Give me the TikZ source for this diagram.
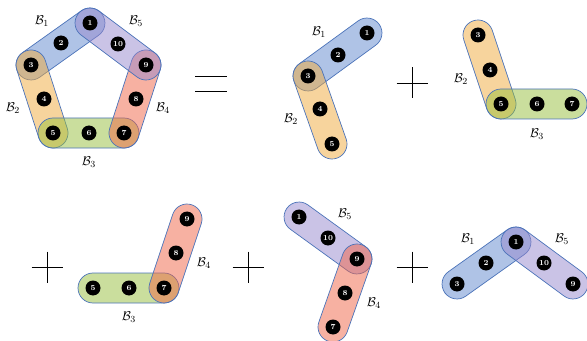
\documentclass[tikz,border=0pt]{standalone}
\usepackage{amsmath}
\usepackage{amssymb}
\usetikzlibrary{calc,backgrounds}

\definecolor{bleuB}{RGB}{95,135,205}
\definecolor{orangeB}{RGB}{240,170,60}
\definecolor{vertB}{RGB}{150,190,60}
\definecolor{rougeB}{RGB}{240,100,70}
\definecolor{violetB}{RGB}{150,135,205}
\definecolor{bordB}{RGB}{75,115,185}

% bande arrondie entre deux sommets : #1 debut, #2 fin, #3 couleur, #4 nom
\newcommand{\bande}[4]{%
\path let \p1=($(#2)-(#1)$), \n1={atan2(\y1,\x1)}, \n2={veclen(\x1,\y1)} in
 node[bandeB, fill=#3, rotate=\n1, minimum width=\n2+0.9cm] (#4) at ($(#1)!0.5!(#2)$) {};}

\begin{document}
\begin{tikzpicture}[x=0.03cm,y=-0.03cm,
 sommet/.style={circle, fill=black, text=white, inner sep=0pt, minimum size=0.45cm, font=\fontsize{6.5}{7}\selectfont\bfseries},
 bandeB/.style={rectangle, rounded corners=0.45cm, minimum height=0.9cm, inner sep=0pt, draw=bordB, line width=0.6pt, fill opacity=0.5},
 nomB/.style={inner sep=0pt, font=\fontsize{11}{13}\selectfont}]
\useasboundingbox (0,0) rectangle (587,341);

%pentagone
\node[sommet] (a1) at (90,23) {1};
\node[sommet] (a2) at (61,43) {2};
\node[sommet] (a3) at (31,65) {3};
\node[sommet] (a4) at (44,99) {4};
\node[sommet] (a5) at (53,133) {5};
\node[sommet] (a6) at (89,133) {6};
\node[sommet] (a7) at (124,133) {7};
\node[sommet] (a8) at (136,99) {8};
\node[sommet] (a9) at (146,65) {9};
\node[sommet] (a10) at (118,44) {10};
\begin{pgfonlayer}{background}
\bande{a1}{a3}{bleuB}{ba1}
\bande{a3}{a5}{orangeB}{ba2}
\bande{a5}{a7}{vertB}{ba3}
\bande{a7}{a9}{rougeB}{ba4}
\bande{a9}{a1}{violetB}{ba5}
\end{pgfonlayer}
\node[nomB] (na1) at (42,21) {$\mathcal{B}_1$};
\node[nomB] (na2) at (13,108) {$\mathcal{B}_2$};
\node[nomB] (na3) at (89,162) {$\mathcal{B}_3$};
\node[nomB] (na4) at (163,108) {$\mathcal{B}_4$};
\node[nomB] (na5) at (136,21) {$\mathcal{B}_5$};

%signe egal
\draw[line width=0.8pt] (195,76.5) -- (227,76.5);
\draw[line width=0.8pt] (195,91.5) -- (227,91.5);

%B1 et B2
\node[sommet] (b1) at (367,33) {1};
\node[sommet] (b2) at (338,55) {2};
\node[sommet] (b3) at (308,76) {3};
\node[sommet] (b4) at (320,109) {4};
\node[sommet] (b5) at (332,144) {5};
\begin{pgfonlayer}{background}
\bande{b1}{b3}{bleuB}{bb1}
\bande{b3}{b5}{orangeB}{bb2}
\end{pgfonlayer}
\node[nomB] (nb1) at (319,32) {$\mathcal{B}_1$};
\node[nomB] (nb2) at (291,119) {$\mathcal{B}_2$};

\draw (396.5,83) -- (427.5,83);
\draw (412,67.5) -- (412,98.5);

%B2 et B3
\node[sommet] (c3) at (478,35) {3};
\node[sommet] (c4) at (490,70) {4};
\node[sommet] (c5) at (501,104) {5};
\node[sommet] (c6) at (537,104) {6};
\node[sommet] (c7) at (572,104) {7};
\begin{pgfonlayer}{background}
\bande{c3}{c5}{orangeB}{bc2}
\bande{c5}{c7}{vertB}{bc3}
\end{pgfonlayer}
\node[nomB] (nc2) at (461,79) {$\mathcal{B}_2$};
\node[nomB] (nc3) at (537,134) {$\mathcal{B}_3$};

\draw (31.5,267) -- (62.5,267);
\draw (47,251.5) -- (47,282.5);

%B3 et B4
\node[sommet] (d5) at (93,288) {5};
\node[sommet] (d6) at (129,288) {6};
\node[sommet] (d7) at (164,288) {7};
\node[sommet] (d8) at (176,253) {8};
\node[sommet] (d9) at (187,219) {9};
\begin{pgfonlayer}{background}
\bande{d5}{d7}{vertB}{bd3}
\bande{d7}{d9}{rougeB}{bd4}
\end{pgfonlayer}
\node[nomB] (nd3) at (129,317) {$\mathcal{B}_3$};
\node[nomB] (nd4) at (204,263) {$\mathcal{B}_4$};

\draw (232.5,267) -- (263.5,267);
\draw (248,251.5) -- (248,282.5);

%B5 et B4
\node[sommet] (e1) at (299,217) {1};
\node[sommet] (e10) at (328,238) {10};
\node[sommet] (e9) at (357,259) {9};
\node[sommet] (e8) at (345,293) {8};
\node[sommet] (e7) at (333,327) {7};
\begin{pgfonlayer}{background}
\bande{e1}{e9}{violetB}{be5}
\bande{e9}{e7}{rougeB}{be4}
\end{pgfonlayer}
\node[nomB] (ne5) at (345,214) {$\mathcal{B}_5$};
\node[nomB] (ne4) at (374,303) {$\mathcal{B}_4$};

\draw (396.5,267) -- (427.5,267);
\draw (412,251.5) -- (412,282.5);

%B1 et B5
\node[sommet] (f3) at (457,284) {3};
\node[sommet] (f2) at (486,263) {2};
\node[sommet] (f1) at (516,242) {1};
\node[sommet] (f10) at (544,263) {10};
\node[sommet] (f9) at (573,284) {9};
\begin{pgfonlayer}{background}
\bande{f1}{f3}{bleuB}{bf1}
\bande{f1}{f9}{violetB}{bf5}
\end{pgfonlayer}
\node[nomB] (nf1) at (468,239) {$\mathcal{B}_1$};
\node[nomB] (nf5) at (562,239) {$\mathcal{B}_5$};

\end{tikzpicture}
\end{document}
